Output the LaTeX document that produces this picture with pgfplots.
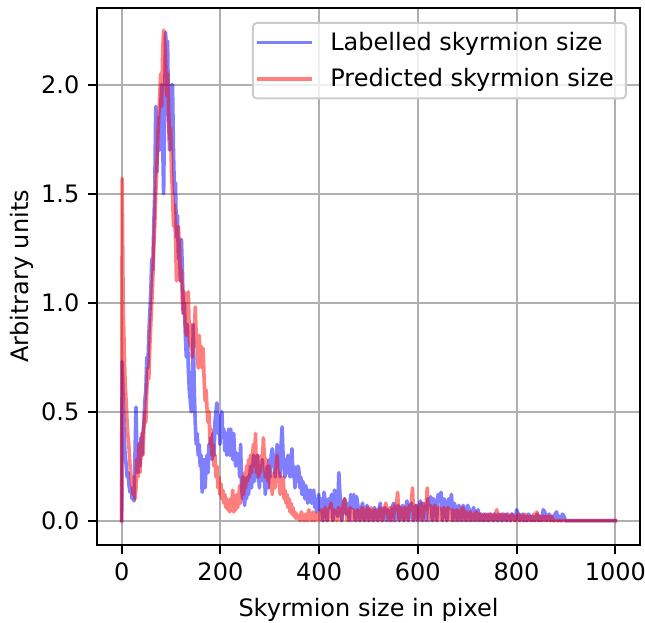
\documentclass[border=0pt]{standalone}
\usepackage{fontspec}
\setmainfont{DejaVu Sans}
\usepackage{pgfplots}
\pgfplotsset{compat=1.18}
\begin{document}
\begin{tikzpicture}
\begin{axis}[
 scale only axis, width=271.5pt, height=268.5pt,
 xmin=-50, xmax=1050, ymin=-0.112, ymax=2.352,
 xtick={0,200,400,600,800,1000}, ytick={0,0.5,1.0,1.5,2.0},
 scaled ticks=false,
 /pgf/number format/assume math mode=true,
 /pgf/number format/1000 sep={},
 yticklabel style={xshift=-1pt, /pgf/number format/.cd, fixed, fixed zerofill, precision=1},
 grid=major, major grid style={color=black!31, line width=1pt},
 tick align=outside, major tick length=4.3pt, tick style={black, line width=1pt},
 tick pos=left,
 axis line style={line width=1pt},
 xlabel={Skyrmion size in pixel}, ylabel={Arbitrary units},
 ticklabel style={font=\fontsize{12}{14}\selectfont},
 xticklabel style={yshift=-1pt},
 label style={font=\fontsize{12}{14}\selectfont},
 xlabel style={yshift=-2pt},
 ylabel shift=-3pt,
 legend style={at={(rel axis cs:0.976,0.974)}, anchor=north east, draw=black!20, rounded corners=2pt, fill=white, fill opacity=0.8, text opacity=1, font=\fontsize{12}{14}\selectfont, inner xsep=2pt, inner ysep=2.5pt, row sep=3.5pt, line width=1pt, nodes={inner xsep=4pt}},
 legend cell align=left,
 legend image code/.code={\draw[#1] (0pt,0pt) -- (26pt,0pt); \path (31pt,0pt);},
]
\addplot[blue, draw opacity=0.5, line width=1.8pt, line join=round, line cap=rect] coordinates {
(0,0) (1,0.73) (3,0.55) (5,0.4) (7,0.3) (9,0.26) (11,0.2) (13,0.22) (15,0.16) (17,0.13) (19,0.15) (21,0.1) (23,0.12) (25,0.09) (27,0.3) (29,0.52) (31,0.3) (33,0.22) (35,0.35) (37,0.25) (39,0.38) (41,0.3) (43,0.4) (45,0.45) (47,0.55) (49,0.6) (51,0.75) (53,0.7) (55,0.85) (57,0.95) (59,1.05) (61,1.2) (63,1.15) (65,1.35) (67,1.5) (69,1.9) (71,1.6) (73,1.75) (75,1.85) (77,1.7) (79,1.9) (81,2.0) (83,1.75) (85,1.5) (87,1.9) (89,2.24) (91,2.1) (93,2.2) (95,1.85) (97,1.7) (99,1.85) (101,2.0) (103,2.0) (105,1.69) (107,1.5) (109,1.55) (111,1.3) (113,1.4) (115,1.2) (117,1.25) (119,1.1) (121,1.29) (123,1.15) (125,0.95) (127,1.0) (129,0.85) (131,0.75) (133,0.9) (135,0.7) (137,0.6) (139,0.55) (141,0.5) (143,0.6) (145,0.9) (147,0.6) (149,0.45) (151,0.35) (153,0.4) (155,0.3) (157,0.35) (159,0.25) (161,0.3) (163,0.13) (165,0.2) (167,0.28) (169,0.15) (171,0.25) (173,0.3) (175,0.22) (177,0.35) (179,0.3) (181,0.38) (183,0.28) (185,0.4) (187,0.3) (189,0.45) (191,0.5) (193,0.54) (195,0.4) (197,0.48) (199,0.35) (201,0.45) (203,0.5) (205,0.38) (207,0.42) (209,0.32) (211,0.4) (213,0.3) (215,0.38) (217,0.42) (219,0.3) (221,0.42) (223,0.35) (225,0.28) (227,0.4) (229,0.3) (231,0.25) (233,0.31) (235,0.27) (237,0.3) (239,0.2) (241,0.35) (243,0.15) (245,0.1) (247,0.2) (249,0.07) (251,0.15) (253,0.1) (255,0.2) (257,0.12) (259,0.18) (261,0.25) (263,0.15) (265,0.22) (267,0.3) (269,0.18) (271,0.25) (273,0.2) (275,0.3) (277,0.22) (279,0.15) (281,0.25) (283,0.2) (285,0.28) (287,0.18) (289,0.22) (291,0.12) (293,0.2) (295,0.25) (297,0.15) (299,0.28) (301,0.2) (303,0.3) (305,0.33) (307,0.25) (309,0.3) (311,0.2) (313,0.28) (315,0.35) (317,0.25) (319,0.3) (321,0.2) (323,0.35) (325,0.43) (327,0.3) (329,0.25) (331,0.2) (333,0.28) (335,0.22) (337,0.3) (339,0.25) (341,0.2) (343,0.28) (345,0.33) (347,0.2) (349,0.25) (351,0.15) (353,0.22) (355,0.18) (357,0.25) (359,0.23) (361,0.15) (363,0.2) (365,0.12) (367,0.18) (369,0.15) (371,0.1) (373,0.16) (375,0.12) (377,0.08) (379,0.14) (381,0.1) (383,0.14) (385,0.08) (387,0.12) (389,0.14) (391,0.06) (393,0.1) (395,0.04) (397,0.08) (399,0.12)
(401,0.05) (404,0.1) (407,0.0) (410,0.13) (413,0.08) (416,0.0) (419,0.1) (422,0.06) (425,0.12) (428,0.0) (431,0.14) (434,0.1) (437,0.02) (440,0.22) (443,0.08) (446,0.0) (449,0.07) (452,0.1) (455,0.03) (458,0.08) (461,0.0) (464,0.12) (467,0.06) (470,0.12) (473,0.0) (476,0.11) (479,0.06) (482,0.0) (485,0.05) (488,0.08) (491,0.0) (494,0.04) (497,0.07) (500,0.0) (503,0.05) (506,0.03) (509,0.0) (512,0.06) (515,0.04) (518,0.0) (521,0.05) (524,0.08) (527,0.0) (530,0.04) (533,0.06) (536,0.0) (539,0.05) (542,0.03) (545,0.0) (548,0.06) (551,0.08) (554,0.0) (557,0.05) (560,0.07) (563,0.0) (566,0.04) (569,0.07) (572,0.0) (575,0.05) (578,0.09) (581,0.0) (584,0.06) (587,0.08) (590,0.0) (593,0.05) (596,0.07) (599,0.0) (602,0.06) (605,0.09) (608,0.0) (611,0.08) (614,0.05) (617,0.0) (620,0.1) (623,0.07) (626,0.11) (629,0.0) (632,0.1) (635,0.08) (638,0.0) (641,0.12) (644,0.09) (647,0.13) (650,0.0) (653,0.1) (656,0.07) (659,0.0) (662,0.1) (665,0.06) (668,0.12) (671,0.0) (674,0.08) (677,0.05) (680,0.0) (683,0.07) (686,0.05) (689,0.0) (692,0.07) (695,0.04) (698,0.0) (701,0.07) (704,0.05) (707,0.0) (710,0.04) (713,0.06) (716,0.0) (719,0.03) (722,0.05) (725,0.0) (728,0.03) (731,0.02) (734,0.0) (737,0.03) (740,0.02) (743,0.0) (746,0.03) (749,0.02) (752,0.0) (755,0.03) (758,0.02) (761,0.0) (764,0.03) (767,0.02) (770,0.0) (773,0.03) (776,0.02) (779,0.0) (782,0.03) (785,0.02) (788,0.0) (791,0.03) (794,0.02) (797,0.0) (800,0.05) (803,0.03) (806,0.0) (809,0.02) (812,0.03) (815,0.0) (818,0.02) (821,0.0) (824,0.03) (827,0.02) (830,0.0) (833,0.02) (836,0.0) (839,0.02) (842,0.03) (845,0.0) (848,0.02) (851,0.0) (854,0.05) (857,0.04) (860,0.0) (863,0.02) (866,0.03) (869,0.0) (872,0.02) (875,0.0) (878,0.03) (881,0.04) (884,0.0) (887,0.02) (890,0.0) (893,0.03) (896,0.02) (899,0) (1000,0)
};
\addlegendentry{Labelled skyrmion size}
\addplot[red, draw opacity=0.5, line width=1.8pt, line join=round, line cap=rect] coordinates {
(0,0) (1,1.57) (3,1.0) (5,0.8) (7,0.63) (9,0.55) (11,0.45) (13,0.38) (15,0.33) (17,0.25) (19,0.2) (21,0.17) (23,0.12) (25,0.2) (27,0.1) (29,0.15) (31,0.28) (33,0.2) (35,0.35) (37,0.22) (39,0.3) (41,0.4) (43,0.3) (45,0.42) (47,0.5) (49,0.45) (51,0.6) (53,0.7) (55,0.65) (57,0.8) (59,0.9) (61,1.0) (63,1.1) (65,1.25) (67,1.35) (69,1.5) (71,1.6) (73,1.75) (75,1.85) (77,1.95) (79,2.05) (81,1.9) (83,2.15) (85,2.25) (87,2.2) (89,2.1) (91,1.95) (93,2.05) (95,1.9) (97,1.75) (99,1.8) (101,1.6) (103,1.5) (105,1.35) (107,1.45) (109,1.3) (111,1.1) (113,1.2) (115,1.35) (117,1.25) (119,1.1) (121,1.15) (123,1.0) (125,0.95) (127,1.05) (129,0.9) (131,0.85) (133,0.95) (135,1.05) (137,0.85) (139,0.8) (141,0.9) (143,0.75) (145,0.85) (147,0.8) (149,0.98) (151,0.85) (153,0.8) (155,0.7) (157,0.85) (159,0.75) (161,0.8) (163,0.7) (165,0.79) (167,0.65) (169,0.55) (171,0.6) (173,0.51) (175,0.45) (177,0.5) (179,0.35) (181,0.42) (183,0.3) (185,0.35) (187,0.25) (189,0.3) (191,0.2) (193,0.25) (195,0.15) (197,0.2) (199,0.12) (201,0.17) (203,0.1) (205,0.14) (207,0.08) (209,0.12) (211,0.06) (213,0.1) (215,0.05) (217,0.08) (219,0.04) (221,0.1) (223,0.06) (225,0.14) (227,0.04) (229,0.08) (231,0.05) (233,0.12) (235,0.06) (237,0.1) (239,0.16) (241,0.08) (243,0.14) (245,0.2) (247,0.12) (249,0.22) (251,0.15) (253,0.25) (255,0.18) (257,0.28) (259,0.2) (261,0.3) (263,0.22) (265,0.3) (267,0.35) (269,0.25) (271,0.4) (273,0.22) (275,0.3) (277,0.2) (279,0.28) (281,0.22) (283,0.3) (285,0.25) (287,0.38) (289,0.3) (291,0.2) (293,0.28) (295,0.22) (297,0.18) (299,0.25) (301,0.15) (303,0.2) (305,0.12) (307,0.18) (309,0.22) (311,0.15) (313,0.25) (315,0.3) (317,0.18) (319,0.22) (321,0.12) (323,0.18) (325,0.15) (327,0.2) (329,0.1) (331,0.14) (333,0.08) (335,0.12) (337,0.06) (339,0.1) (341,0.04) (343,0.08) (345,0.03) (347,0.06) (349,0.02) (351,0.04) (353,0.01) (355,0.03) (357,0.01)
(358,0.02) (361,0.0) (364,0.04) (367,0.01) (370,0.0) (373,0.03) (376,0.0) (379,0.05) (382,0.02) (385,0.0) (388,0.04) (391,0.0) (394,0.03) (397,0.02) (400,0.0) (403,0.05) (406,0.03) (409,0.0) (412,0.06) (415,0.04) (418,0.0) (421,0.05) (424,0.08) (427,0.0) (430,0.05) (433,0.03) (436,0.0) (439,0.06) (442,0.04) (445,0.0) (448,0.06) (451,0.1) (454,0.05) (457,0.0) (460,0.04) (463,0.06) (466,0.0) (469,0.05) (472,0.03) (475,0.0) (478,0.05) (481,0.04) (484,0.0) (487,0.06) (490,0.03) (493,0.0) (496,0.05) (499,0.06) (502,0.0) (505,0.06) (508,0.04) (511,0.0) (514,0.05) (517,0.03) (520,0.0) (523,0.06) (526,0.04) (529,0.0) (532,0.05) (535,0.08) (538,0.05) (541,0.0) (544,0.06) (547,0.04) (550,0.0) (553,0.07) (556,0.05) (559,0.13) (562,0.0) (565,0.06) (568,0.04) (571,0.0) (574,0.06) (577,0.05) (580,0.0) (583,0.07) (586,0.05) (589,0.15) (592,0.0) (595,0.07) (598,0.05) (601,0.0) (604,0.06) (607,0.08) (610,0.0) (613,0.06) (616,0.05) (619,0.15) (622,0.0) (625,0.07) (628,0.05) (631,0.0) (634,0.07) (637,0.05) (640,0.0) (643,0.06) (646,0.04) (649,0.0) (652,0.06) (655,0.05) (658,0.0) (661,0.06) (664,0.04) (667,0.0) (670,0.05) (673,0.04) (676,0.0) (679,0.05) (682,0.03) (685,0.0) (688,0.05) (691,0.06) (694,0.0) (697,0.04) (700,0.03) (703,0.0) (706,0.04) (709,0.02) (712,0.0) (715,0.03) (718,0.04) (721,0.0) (724,0.03) (727,0.02) (730,0.0) (733,0.03) (736,0.02) (739,0.0) (742,0.03) (745,0.0) (748,0.03) (751,0.02) (754,0.0) (757,0.03) (760,0.05) (763,0.0) (766,0.02) (769,0.03) (772,0.0) (775,0.02) (778,0.03) (781,0.0) (784,0.02) (787,0.0) (790,0.03) (793,0.02) (796,0.0) (799,0.02) (802,0.0) (805,0.03) (808,0.0) (811,0.02) (814,0.0) (817,0.03) (820,0.0) (823,0.02) (826,0.0) (829,0.02) (832,0.0) (835,0.03) (838,0.0) (841,0.04) (844,0.0) (847,0.02) (850,0.0) (853,0.02) (856,0.0) (859,0.02) (862,0.0) (865,0.02) (868,0.0) (871,0.02) (874,0.0) (1000,0)
};
\addlegendentry{Predicted skyrmion size}
\coordinate (bbbl) at (rel axis cs:-0.1786,-0.1434);
\coordinate (bbtr) at (rel axis cs:1.0092,1.0149);
\end{axis}
\pgfresetboundingbox
\path[use as bounding box] (bbbl) rectangle (bbtr);
\end{tikzpicture}
\end{document}
